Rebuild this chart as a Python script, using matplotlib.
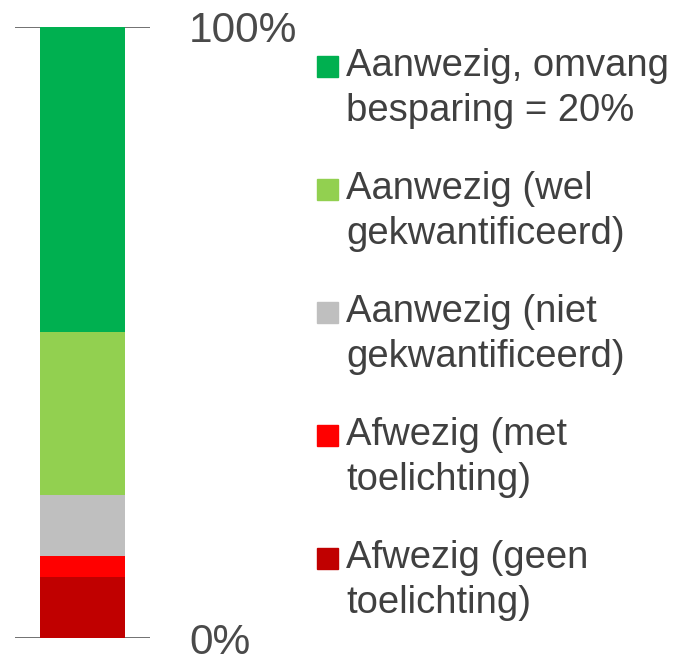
import matplotlib.pyplot as plt
from matplotlib.patches import Rectangle

plt.rcParams['font.family'] = ['Liberation Sans', 'DejaVu Sans']

# share of items per category, bottom to top (%)
categories = ["Afwezig (geen\ntoelichting)",
              "Afwezig (met\ntoelichting)",
              "Aanwezig (niet\ngekwantificeerd)",
              "Aanwezig (wel\ngekwantificeerd)",
              "Aanwezig, omvang\nbesparing = 20%"]
values = [10.0, 3.33, 10.0, 26.67, 50.0]
colors = ["#C00000", "#FF0000", "#BFBFBF", "#92D050", "#00B050"]
tick_vals = [0, 100]
tick_labels = ["0%", "100%"]

W, H = 687, 655
fig = plt.figure(figsize=(W / 100, H / 100), dpi=100)
ax = fig.add_axes([15 / W, (H - 638) / H, 135 / W, 611.5 / H])

bottom = 0
for v, c in zip(values, colors):
    ax.bar(0, v, bottom=bottom, width=85 / 135, color=c, zorder=2)
    bottom += v

ax.set_xlim(-0.5, 0.5)
ax.set_ylim(0, 100)
ax.set_xticks([])
for s in ax.spines.values():
    s.set_visible(False)
ax.yaxis.tick_right()
ax.set_yticks(tick_vals)
ax.set_yticklabels(tick_labels, fontsize=30.5, color="#4a4a4a")
ax.tick_params(axis='y', length=0, pad=28)
ax.yaxis.grid(True, color="#595959", linewidth=1.2, zorder=1)
ax.set_axisbelow(True)

# legend drawn by hand, top entry first
for i, (lab, c) in enumerate(zip(categories[::-1], colors[::-1])):
    base = 76 + 123 * i
    fig.patches.append(Rectangle((317 / W, (H - base - 1) / H), 21 / W, 21 / H,
                                 transform=fig.transFigure, color=c))
    for j, line in enumerate(lab.split("\n")):
        fig.text(346 / W, (H - base - 45 * j) / H, line, fontsize=27.5,
                 color="#404040", ha='left', va='baseline')

fig.savefig("out.png", dpi=100)
